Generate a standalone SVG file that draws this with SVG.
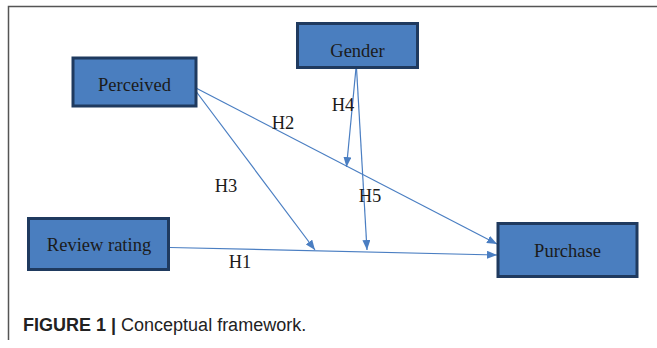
<svg xmlns="http://www.w3.org/2000/svg" width="657" height="348" viewBox="0 0 657 348">
<style>
.box{fill:#4A7EBF;stroke:#1F3A5F;stroke-width:3}
.lbl{font-family:"Liberation Serif","Times New Roman",serif;font-size:18.5px;fill:#1b1b1b;text-anchor:middle}
.h{font-family:"Liberation Serif","Times New Roman",serif;font-size:18.5px;fill:#1b1b1b;text-anchor:middle}
.c{stroke:#4A7EC2;stroke-width:1.2;fill:none;marker-end:url(#ah)}
.cap{font-family:"Liberation Sans",Arial,sans-serif;font-size:18px;fill:#222}
</style>
<defs>
<marker id="ah" markerWidth="10" markerHeight="8" refX="10" refY="4" orient="auto" markerUnits="userSpaceOnUse">
<path d="M0,0 L10,4 L0,8 Z" fill="#4A7EC2"/>
</marker>
</defs>
<rect width="657" height="348" fill="#fff"/>
<path d="M8.5,340 V6.5 H657" stroke="#555" stroke-width="1.5" fill="none"/>
<g id="connectors">
<line class="c" x1="170" y1="247.5" x2="497" y2="255"/>
<line class="c" x1="194" y1="87" x2="497" y2="244"/>
<line class="c" x1="195" y1="90" x2="315" y2="250"/>
<line class="c" x1="356" y1="68" x2="346.5" y2="167"/>
<line class="c" x1="356.5" y1="68" x2="367" y2="250"/>
<text class="h" x="240" y="268">H1</text>
<text class="h" x="283" y="129">H2</text>
<text class="h" x="226" y="192">H3</text>
<text class="h" x="343" y="111">H4</text>
<text class="h" x="370" y="202">H5</text>
</g>
<g id="perceived"><rect class="box" x="73" y="58" width="123" height="48"/><text class="lbl" x="134.5" y="91">Perceived</text></g>
<g id="gender"><rect class="box" x="297.5" y="23.5" width="120" height="44"/><text class="lbl" x="357.5" y="57">Gender</text></g>
<g id="review"><rect class="box" x="28.5" y="218.5" width="140" height="51"/><text class="lbl" x="99" y="251">Review rating</text></g>
<g id="purchase"><rect class="box" x="498" y="223.5" width="139" height="53"/><text class="lbl" x="567.5" y="257">Purchase</text></g>
<text class="cap" x="23" y="331"><tspan font-weight="bold">FIGURE 1 |</tspan> Conceptual framework.</text>
</svg>
